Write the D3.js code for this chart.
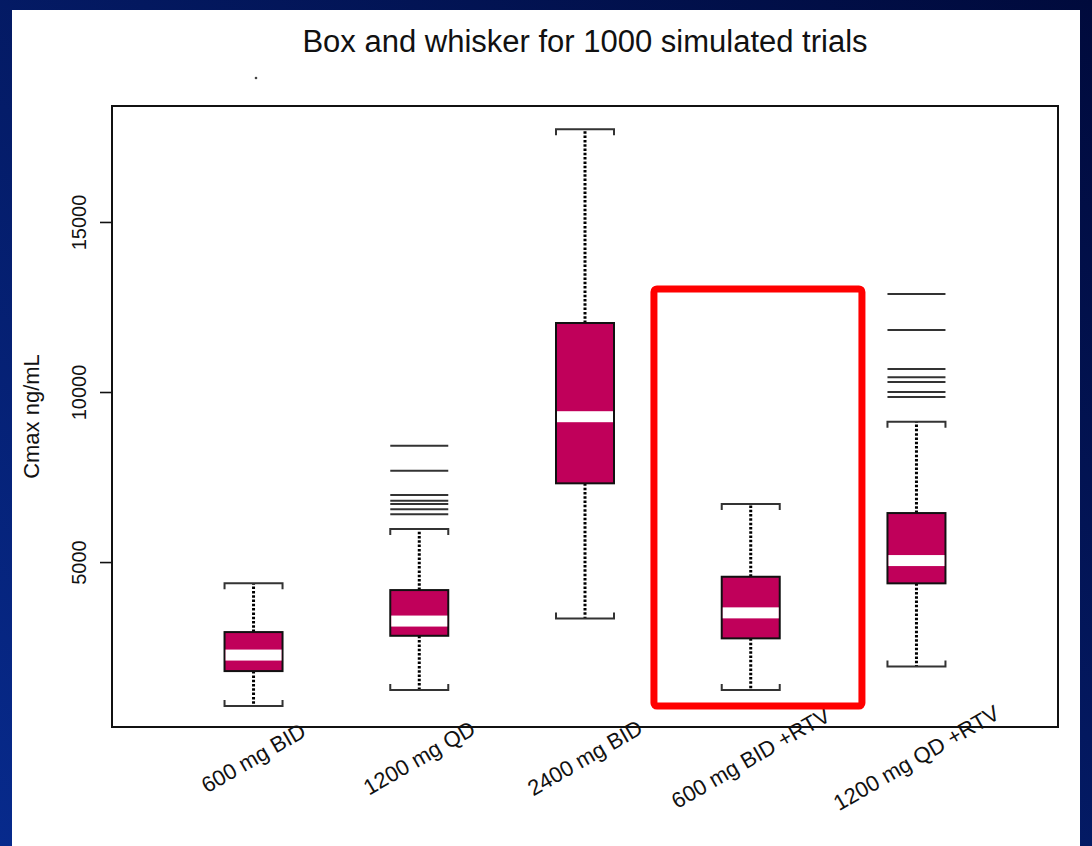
<!DOCTYPE html>
<html>
<head>
<meta charset="utf-8">
<script src="https://cdn.jsdelivr.net/npm/d3@7"></script>
<style>
  html, body { margin: 0; padding: 0; background: #fff; }
  svg { display: block; }
  text { font-family: "Liberation Sans", Arial, sans-serif; fill: #111; }
</style>
</head>
<body>
<svg id="chart" width="1092" height="846"></svg>
<script>
// Simulated Cmax (ng/mL) summaries per dosing regimen
const categories = ["600 mg BID", "1200 mg QD", "2400 mg BID", "600 mg BID +RTV", "1200 mg QD +RTV"];
const whiskerLow  = [765, 1235, 3344, 1235, 1926];
const q1          = [1794, 2832, 7315, 2756, 4374];
const medians     = [2265, 3265, 9274, 3506, 5044];
const q3          = [2941, 4176, 12029, 4568, 6441];
const whiskerHigh = [4374, 5971, 17726, 6706, 9126];
const outliers = [
  [],
  [6403, 6550, 6706, 6803, 6971, 7685, 8421],
  [],
  [],
  [9853, 10000, 10294, 10432, 10676, 11824, 12882]
];
const yTicks = [5000, 10000, 15000];
const titleText = "Box and whisker for 1000 simulated trials";
const yLabel = "Cmax ng/mL";
// Highlighted regimen and the value span its frame encloses
const highlightCategory = "600 mg BID +RTV";
const highlightRange = [765, 13030];

const W = 1092, H = 846;
const plot = { left: 112, right: 1058, top: 106, bottom: 727 };
const boxW = 58;
const medianBand = 11;

const svg = d3.select("#chart");

// Slide background with a white panel
const defs = svg.append("defs");
const grad = defs.append("linearGradient")
  .attr("id", "slideBg").attr("x1", 1).attr("y1", 0).attr("x2", 0).attr("y2", 1);
grad.append("stop").attr("offset", 0).attr("stop-color", "#000a3c");
grad.append("stop").attr("offset", 1).attr("stop-color", "#072a8c");
svg.append("rect").attr("width", W).attr("height", H).attr("fill", "url(#slideBg)");
svg.append("rect").attr("x", 12).attr("y", 10).attr("width", 1068).attr("height", H - 10).attr("fill", "#fff");

const x = d3.scalePoint().domain(categories).range([plot.left, plot.right]).padding(0.854);
const y = d3.scaleLinear().domain([150, 18410]).range([plot.bottom, plot.top]);

const rows = categories.map((c, i) => ({
  cat: c, lo: whiskerLow[i], q1: q1[i], med: medians[i], q3: q3[i], hi: whiskerHigh[i], out: outliers[i]
}));

// Title
svg.append("text")
  .attr("x", (plot.left + plot.right) / 2).attr("y", 52)
  .attr("text-anchor", "middle").attr("font-size", 31)
  .text(titleText);

// Stray mark under the title
svg.append("circle").attr("cx", 256).attr("cy", 78).attr("r", 1.3).attr("fill", "#444");

// Y axis
const yAxis = svg.append("g")
  .attr("transform", `translate(${plot.left},0)`)
  .call(d3.axisLeft(y).tickValues(yTicks).tickSize(12).tickFormat(d3.format("d")));
yAxis.select(".domain").remove();
yAxis.selectAll(".tick line").attr("stroke", "#111").attr("stroke-width", 1.6);
yAxis.selectAll(".tick text")
  .attr("transform", "rotate(-90)")
  .attr("x", 0).attr("y", -26).attr("dy", 0)
  .attr("text-anchor", "middle")
  .attr("font-size", 20)
  .style("font-family", "'Liberation Sans', Arial, sans-serif")
  .attr("fill", "#111");

// Y axis title
svg.append("text")
  .attr("transform", `translate(39,${(plot.top + plot.bottom) / 2}) rotate(-90)`)
  .attr("text-anchor", "middle").attr("font-size", 22)
  .text(yLabel);

// Boxes
const g = svg.append("g");
const groups = g.selectAll("g.box").data(rows).join("g").attr("class", "box")
  .attr("transform", d => `translate(${x(d.cat)},0)`);

// dotted whiskers
groups.append("line")
  .attr("x1", 0).attr("x2", 0)
  .attr("y1", d => y(d.q3)).attr("y2", d => y(d.hi))
  .attr("stroke", "#000").attr("stroke-width", 3).attr("stroke-dasharray", "2.5,1.8");
groups.append("line")
  .attr("x1", 0).attr("x2", 0)
  .attr("y1", d => y(d.q1)).attr("y2", d => y(d.lo))
  .attr("stroke", "#000").attr("stroke-width", 3).attr("stroke-dasharray", "2.5,1.8");

// bracket-shaped staples
groups.append("path")
  .attr("d", d => `M${-boxW / 2},${y(d.hi) + 6}V${y(d.hi)}H${boxW / 2}V${y(d.hi) + 6}`)
  .attr("fill", "none").attr("stroke", "#333").attr("stroke-width", 2);
groups.append("path")
  .attr("d", d => `M${-boxW / 2},${y(d.lo) - 6}V${y(d.lo)}H${boxW / 2}V${y(d.lo) - 6}`)
  .attr("fill", "none").attr("stroke", "#333").attr("stroke-width", 2);

// outliers as horizontal dashes
groups.selectAll("line.out").data(d => d.out).join("line").attr("class", "out")
  .attr("x1", -boxW / 2).attr("x2", boxW / 2)
  .attr("y1", v => y(v)).attr("y2", v => y(v))
  .attr("stroke", "#333").attr("stroke-width", 2);

// box body
groups.append("rect")
  .attr("x", -boxW / 2).attr("width", boxW)
  .attr("y", d => y(d.q3)).attr("height", d => y(d.q1) - y(d.q3))
  .attr("fill", "#c0005a").attr("stroke", "#111").attr("stroke-width", 2);

// median band
groups.append("rect")
  .attr("x", -boxW / 2 + 1).attr("width", boxW - 2)
  .attr("y", d => y(d.med) - medianBand / 2).attr("height", medianBand)
  .attr("fill", "#fff");

// Plot frame
svg.append("rect")
  .attr("x", plot.left).attr("y", plot.top)
  .attr("width", plot.right - plot.left).attr("height", plot.bottom - plot.top)
  .attr("fill", "none").attr("stroke", "#111").attr("stroke-width", 2);

// Category labels
svg.append("g").selectAll("text").data(categories).join("text")
  .attr("transform", c => `translate(${x(c)},758) rotate(-30)`)
  .attr("text-anchor", "middle").attr("dominant-baseline", "central")
  .attr("font-size", 22)
  .text(c => c);

// Highlight frame around one regimen
const step = x.step();
const hx = x(highlightCategory);
svg.append("rect")
  .attr("x", hx - 0.584 * step).attr("width", (0.584 + 0.671) * step)
  .attr("y", y(highlightRange[1])).attr("height", y(highlightRange[0]) - y(highlightRange[1]))
  .attr("rx", 3)
  .attr("fill", "none").attr("stroke", "#ff0000").attr("stroke-width", 7);
</script>
</body>
</html>
